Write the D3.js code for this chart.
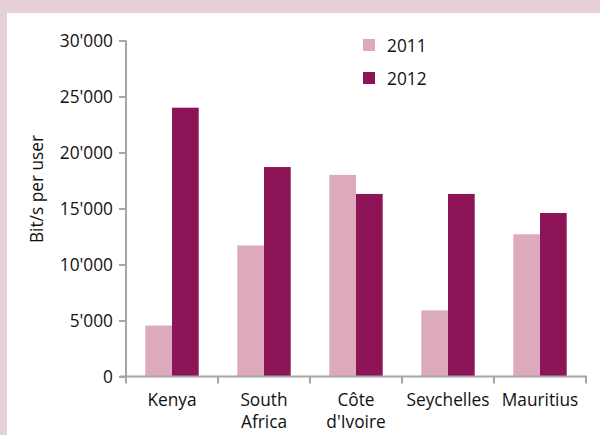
<!DOCTYPE html>
<html><head><meta charset="utf-8">
<script src="https://cdn.jsdelivr.net/npm/d3@7"></script>
<style>html,body{margin:0;padding:0;background:#fff;}svg{display:block;}</style>
</head><body>
<script>
const categories = ["Kenya", "South Africa", "Côte d'Ivoire", "Seychelles", "Mauritius"];
const categoryLines = [["Kenya"], ["South", "Africa"], ["Côte", "d'Ivoire"], ["Seychelles"], ["Mauritius"]];
const seriesNames = ["2011", "2012"];
const values2011 = [4550, 11700, 18000, 5900, 12700];
const values2012 = [24000, 18700, 16300, 16300, 14600];
const yTicks = [0, 5000, 10000, 15000, 20000, 25000, 30000];
const yTickLabels = ["0", "5'000", "10'000", "15'000", "20'000", "25'000", "30'000"];
const yTitle = "Bit/s per user";
const colors = ["#DDAABD", "#8E1458"];

const W = 600, H = 435;
const font = "'Open Sans', sans-serif";
const fs = "17.3px";
const svg = d3.select("body").append("svg").attr("width", W).attr("height", H);

// frame
svg.append("rect").attr("x", 0).attr("y", 0).attr("width", W).attr("height", H).attr("fill", "#E6D0DA");
svg.append("rect").attr("x", 7).attr("y", 13).attr("width", W - 7).attr("height", H - 13).attr("fill", "#fff");

const x0 = d3.scaleBand().domain(categories).range([126, 586]).padding(0);
const x1 = d3.scaleBand().domain(seriesNames).range([19.3, 72.7]).padding(0);
const y = d3.scaleLinear().domain([0, 30000]).range([376.5, 40.5]);

const data = categories.map((c, i) => ({cat: c, vals: [values2011[i], values2012[i]]}));

const g = svg.append("g");
const groups = g.selectAll("g.cat").data(data).join("g").attr("transform", d => `translate(${x0(d.cat)},0)`);
groups.selectAll("rect").data(d => d.vals.map((v, j) => ({v, s: seriesNames[j], j})))
  .join("rect")
  .attr("x", d => x1(d.s))
  .attr("width", x1.bandwidth())
  .attr("y", d => y(d.v))
  .attr("height", d => y(0) - y(d.v))
  .attr("fill", d => colors[d.j]);

const axisColor = "#A6A6A6";
// y axis
const yAxis = svg.append("g").attr("transform", "translate(126,0)")
  .call(d3.axisLeft(y).tickValues(yTicks).tickFormat((d, i) => yTickLabels[i]).tickSize(7).tickPadding(6));
yAxis.select(".domain").attr("stroke", axisColor).attr("stroke-width", 2).attr("d", `M0,${y(30000)}H0V${y(0)+1}`);
yAxis.selectAll(".tick line").attr("stroke", axisColor).attr("stroke-width", 2);
yAxis.selectAll(".tick text").attr("font-family", font).attr("font-size", fs).attr("fill", "#111");

// x axis
const xg = svg.append("g").attr("transform", `translate(0,${y(0)})`);
xg.append("line").attr("x1", 120).attr("x2", 587).attr("y1", 0).attr("y2", 0).attr("stroke", axisColor).attr("stroke-width", 2);
const bounds = categories.map(c => x0(c)).concat([x0.range()[1]]);
xg.selectAll("line.tk").data(bounds).join("line").attr("class", "tk")
  .attr("x1", d => d).attr("x2", d => d).attr("y1", 0).attr("y2", 7)
  .attr("stroke", axisColor).attr("stroke-width", 2);

const lab = svg.append("g");
categories.forEach((c, i) => {
  const t = lab.append("text").attr("text-anchor", "middle").attr("font-family", font).attr("font-size", fs).attr("fill", "#111");
  categoryLines[i].forEach((ln, k) => {
    t.append("tspan").attr("x", x0(c) + x0.bandwidth() / 2).attr("y", 406 + k * 22).text(ln);
  });
});

// y title
svg.append("text").attr("transform", "translate(43,189) rotate(-90)").attr("text-anchor", "middle")
  .attr("font-family", font).attr("font-size", fs).attr("fill", "#111").text(yTitle);

// legend
const leg = svg.append("g");
seriesNames.forEach((s, i) => {
  leg.append("rect").attr("x", 363).attr("y", 39 + i * 33).attr("width", 12).attr("height", 12).attr("fill", colors[i]);
  leg.append("text").attr("x", 387).attr("y", 52 + i * 33).attr("font-family", font).attr("font-size", fs).attr("fill", "#111").text(s);
});
</script>
</body></html>
